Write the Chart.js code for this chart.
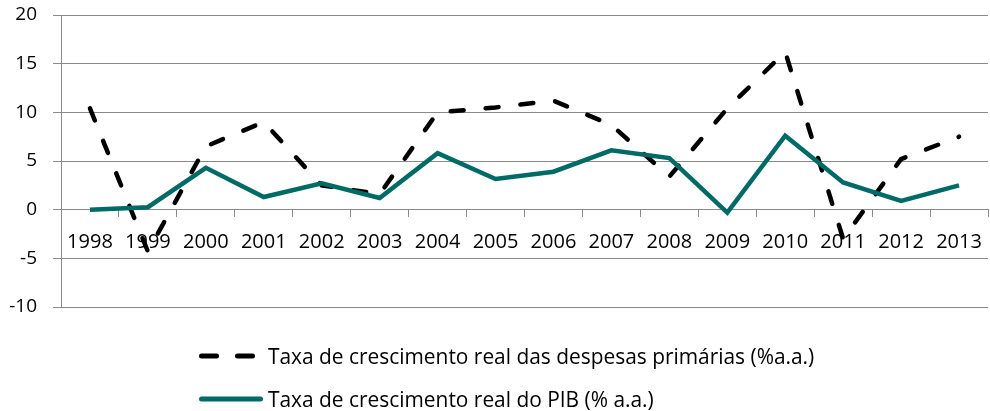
<!DOCTYPE html>
<html>
<head>
<meta charset="utf-8">
<script src="https://cdn.jsdelivr.net/npm/chart.js@4/dist/chart.umd.min.js"></script>
<style>
  html, body { margin: 0; padding: 0; background: #fff; }
  #wrap { position: relative; width: 990px; height: 322px; }
  #legend { position: absolute; left: 0; top: 0; width: 990px; height: 411px; pointer-events: none; }
  .item { position: absolute; left: 199px; display: flex; align-items: center; height: 24px;
          font-family: "Open Sans", sans-serif; font-size: 20.9px; color: #000; white-space: nowrap; }
  .item svg { margin-right: 5px; }
</style>
</head>
<body>
<div id="wrap"><canvas id="chart" width="990" height="322"></canvas></div>
<div id="legend"></div>
<script>
  // data
  const years = ["1998", "1999", "2000", "2001", "2002", "2003", "2004", "2005",
                 "2006", "2007", "2008", "2009", "2010", "2011", "2012", "2013"];
  const despesas = [10.4, -4.3, 6.5, 9.0, 2.5, 1.6, 10.0, 10.5,
                    11.2, 8.7, 3.4, 10.4, 16.2, -3.0, 5.2, 7.5];
  const pib = [0.0, 0.25, 4.3, 1.3, 2.7, 1.2, 5.8, 3.15,
               3.9, 6.1, 5.3, -0.3, 7.6, 2.8, 0.9, 2.5];
  const yTicks = [-10, -5, 0, 5, 10, 15, 20];

  const teal = "#006a66";
  const gridGray = "#8a8a8a";

  // html legend, one row per series, left aligned
  const htmlLegend = {
    id: "htmlLegend",
    afterUpdate(chart) {
      const box = document.getElementById("legend");
      box.innerHTML = "";
      const rowsY = [344, 387];
      chart.data.datasets.forEach((ds, i) => {
        const row = document.createElement("div");
        row.className = "item";
        row.style.top = rowsY[i] + "px";
        const dash = ds.borderDash && ds.borderDash.length ? 'stroke-dasharray="15 21"' : "";
        row.innerHTML =
          '<svg width="64" height="12"><line x1="2.5" y1="6" x2="' + (dash ? 57 : 61.5) +
          '" y2="6" stroke="' + ds.borderColor + '" stroke-width="5" stroke-linecap="round" ' +
          dash + "/></svg>";
        const txt = document.createElement("span");
        txt.textContent = ds.label;
        row.appendChild(txt);
        box.appendChild(row);
      });
    }
  };

  new Chart(document.getElementById("chart"), {
    type: "line",
    data: {
      labels: years,
      datasets: [
        {
          label: "Taxa de crescimento real das despesas primárias (%a.a.)",
          data: despesas,
          borderColor: "#000",
          borderWidth: 4.5,
          borderDash: [13, 22],
          borderCapStyle: "round",
          pointRadius: 0,
          tension: 0,
          order: 1
        },
        {
          label: "Taxa de crescimento real do PIB (% a.a.)",
          data: pib,
          borderColor: teal,
          borderWidth: 4.5,
          pointRadius: 0,
          tension: 0,
          order: 0
        }
      ]
    },
    options: {
      responsive: false,
      animation: false,
      layout: { padding: { top: 0, bottom: 0, left: 0, right: 2 } },
      plugins: {
        legend: { display: false },
        tooltip: { enabled: false }
      },
      scales: {
        x: {
          type: "category",
          position: { y: 0 },
          offset: true,
          afterFit(scale) {
            scale.paddingLeft = 0;
            scale.paddingRight = 0;
          },
          grid: {
            offset: true,
            drawOnChartArea: false,
            drawTicks: true,
            tickLength: 7,
            color: gridGray
          },
          border: { display: true, color: gridGray, width: 1 },
          ticks: {
            color: "#000",
            font: { family: "Open Sans", size: 20 },
            padding: 14,
            maxRotation: 0,
            autoSkip: false
          }
        },
        y: {
          min: yTicks[0],
          max: yTicks[yTicks.length - 1],
          afterBuildTicks(scale) {
            scale.ticks = yTicks.map(v => ({ value: v }));
          },
          afterFit(scale) {
            // fixed plot box: left axis at x=61, top 15 px, bottom 15 px
            scale.width = 61;
            scale.paddingTop = 15;
            scale.paddingBottom = 15;
          },
          grid: {
            color: gridGray,
            drawTicks: true,
            tickLength: 8
          },
          border: { display: true, color: gridGray, width: 1 },
          ticks: {
            color: "#000",
            font: { family: "Open Sans", size: 19 },
            padding: 16
          }
        }
      }
    },
    plugins: [htmlLegend]
  });
</script>
</body>
</html>
